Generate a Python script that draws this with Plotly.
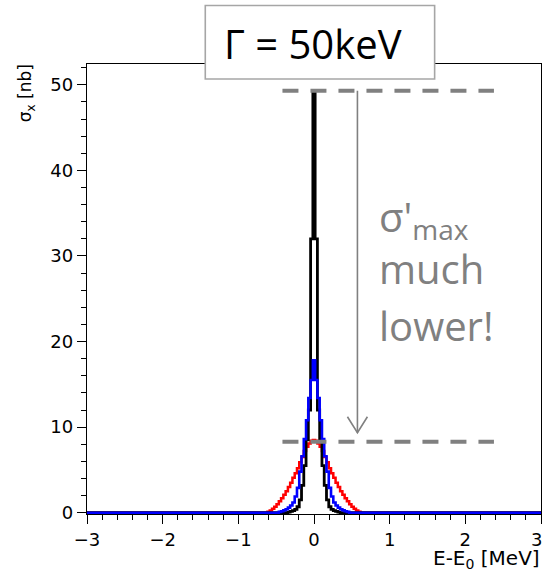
import numpy as np
import plotly.graph_objects as go

# ---------------- data ----------------
bin_width = 0.03          # MeV
x_lo, x_hi = -3.0, 3.0

# non-zero bin contents (nb), listed bin by bin around E-E0 = 0
red_vals = [0.1, 0.25, 0.45, 0.7, 1.0, 1.35, 1.7, 2.1, 2.5, 3.0, 3.5, 4.1, 4.6, 5.2, 5.9,
            6.5, 7.2, 7.7, 8.1, 8.4, 8.5, 8.4, 8.1, 7.7, 7.2, 6.5, 5.9, 5.2, 4.6, 4.1,
            3.5, 3.0, 2.5, 2.1, 1.7, 1.35, 1.0, 0.7, 0.45, 0.25, 0.1]
blue_vals = [0.1, 0.18, 0.28, 0.4, 0.6, 0.85, 1.2, 1.9, 2.9, 4.8, 6.6, 8.6, 10.8, 13.4, 15.5,
             17.8, 15.5, 13.4, 10.8, 8.6, 6.6, 4.8, 2.9, 1.9, 1.2, 0.85, 0.6, 0.4, 0.28, 0.18, 0.1]
black_vals = [0.08, 0.15, 0.25, 0.4, 0.7, 1.5, 3.2, 5.5, 8.5, 12, 32, 49, 32, 12, 8.5, 5.5,
              3.2, 1.5, 0.7, 0.4, 0.25, 0.15, 0.08]

x_ticks = [-3, -2, -1, 0, 1, 2, 3]
y_ticks = [0, 10, 20, 30, 40, 50]

sigma_max = 49.3      # dashed line levels (nb)
sigma_max_p = 8.3

# ---------------- histogram construction ----------------
n_bins = int(round((x_hi - x_lo) / bin_width)) + 1
centers = np.round(np.linspace(x_lo, x_hi, n_bins), 4)
mid = n_bins // 2


def hist(vals):
    y = np.zeros(n_bins)
    n = len(vals)
    s = mid - n // 2
    y[s:s + n] = vals
    return y


# ---------------- layout geometry (pixels) ----------------
W, H = 544, 573
L, R, T, B = 87.3, 541.0, 63.5, 514.0


def pxx(px):
    return (px - L) / (R - L)


def pxy(py):
    return (B - py) / (B - T)


fig = go.Figure()
for vals, col, lw in [(red_vals, "#ff0000", 2.5), (black_vals, "#000000", 2.8),
                      (blue_vals, "#0000ff", 2.6)]:
    fig.add_trace(go.Scatter(x=centers, y=hist(vals), mode="lines",
                             line=dict(color=col, width=lw, shape="hvh"),
                             hoverinfo="skip", showlegend=False))

tickfont = dict(family="DejaVu Sans", size=18, color="#000000")
fig.update_layout(
    width=W, height=H,
    margin=dict(l=L, r=W - R, t=T, b=H - B, pad=0),
    paper_bgcolor="white", plot_bgcolor="white",
    showlegend=False,
    xaxis=dict(range=[x_lo, x_hi], tickvals=x_ticks, ticks="outside", ticklen=9,
               tickwidth=1.2, tickcolor="black", showgrid=False, zeroline=False,
               showline=True, linecolor="black", linewidth=1.3, mirror=True,
               layer="below traces", tickfont=tickfont,
               minor=dict(dtick=0.2, ticks="outside", ticklen=5, tickwidth=1.1,
                          tickcolor="black", showgrid=False)),
    yaxis=dict(range=[-0.15, 52.43], tickvals=y_ticks, ticks="outside", ticklen=9,
               tickwidth=1.2, tickcolor="black", showgrid=False, zeroline=False,
               showline=True, linecolor="black", linewidth=1.3, mirror=True,
               layer="below traces", tickfont=tickfont,
               minor=dict(dtick=2, ticks="outside", ticklen=5, tickwidth=1.1,
                          tickcolor="black", showgrid=False)),
)

# the last x tick label sits on the page edge (cut in the original); keep it inside
fig.add_annotation(text=str(x_ticks[-1]), xref="paper", yref="paper", x=1.0 + (W - R) / (R - L),
                   y=pxy(527), xanchor="right", yanchor="top", showarrow=False,
                   font=tickfont)

gray = "#808080"
# dashed sigma levels
for lvl in [sigma_max, sigma_max_p]:
    fig.add_shape(type="line", xref="x", yref="y", x0=-0.417, x1=2.378, y0=lvl, y1=lvl,
                  line=dict(color=gray, width=4, dash="16px,12px"), layer="above")

# arrow
ax = 0.574
fig.add_shape(type="line", xref="x", yref="y", x0=ax, x1=ax, y0=sigma_max, y1=9.34,
              line=dict(color=gray, width=1.6), layer="above")
fig.add_shape(type="path", xref="x", yref="y",
              path=f"M {ax-0.132},11.21 L {ax},9.34 L {ax+0.132},11.21",
              line=dict(color=gray, width=1.6), layer="above")

# title box
fig.add_shape(type="rect", xref="paper", yref="paper",
              x0=pxx(205.5), x1=pxx(434.7), y0=pxy(78.5), y1=pxy(5),
              line=dict(color="#a6a6a6", width=1.6), fillcolor="white", layer="above")
fig.add_annotation(text="Γ = 50keV", xref="paper", yref="paper", x=pxx(313), y=pxy(43),
                   xanchor="center", yanchor="middle", showarrow=False,
                   font=dict(family="Open Sans", size=40, color="black"))

# gray comment text
gfont = dict(family="Open Sans", size=40, color=gray)
fig.add_annotation(text="σ'<sub>max</sub>", xref="paper", yref="paper", x=pxx(377), y=pxy(218),
                   xanchor="left", yanchor="middle", showarrow=False, font=gfont)
fig.add_annotation(text="much", xref="paper", yref="paper", x=pxx(377), y=pxy(268),
                   xanchor="left", yanchor="middle", showarrow=False, font=gfont)
fig.add_annotation(text="lower!", xref="paper", yref="paper", x=pxx(377), y=pxy(325),
                   xanchor="left", yanchor="middle", showarrow=False, font=gfont)

# axis titles
fig.add_annotation(text="σ<sub>x</sub> [nb]", xref="paper", yref="paper", x=pxx(27), y=pxy(62),
                   xanchor="center", yanchor="top", textangle=-90, showarrow=False,
                   font=dict(family="DejaVu Sans", size=17, color="black"))
fig.add_annotation(text="E-E<sub>0</sub> [MeV]", xref="paper", yref="paper", x=pxx(542), y=pxy(559),
                   xanchor="right", yanchor="middle", showarrow=False,
                   font=dict(family="DejaVu Sans", size=20, color="black"))

post = """
document.documentElement.style.overflow='hidden';
document.body.style.margin='0';
document.body.style.overflow='hidden';
"""
fig.write_html("out.html", config={"displayModeBar": False}, post_script=post)
